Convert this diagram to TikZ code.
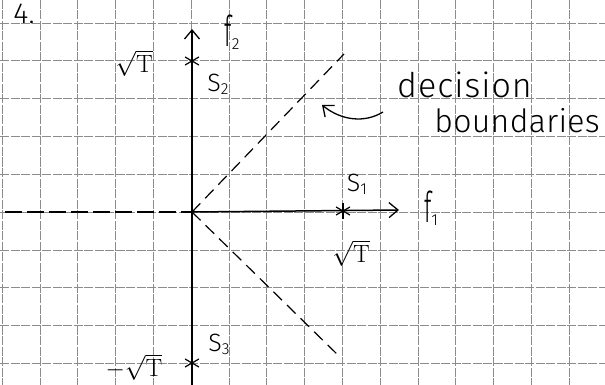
\documentclass[tikz,border=0pt]{standalone}
\usepackage{fontspec}
\usepackage{graphicx}
\usetikzlibrary{arrows.meta}
\newfontfamily\hand{Fira Sans Light}
\newcommand\handsub[1]{\raisebox{-3pt}{\fontsize{16}{16}\selectfont #1}}
\newcommand\handf{\scalebox{0.9}[1.7]{f}}
\begin{document}
\begin{tikzpicture}[x=1pt,y=-1pt,
  gridline/.style={black!45, line width=0.6pt, dash pattern=on 9pt off 1.5pt},
  axis/.style={line width=1.5pt, black},
  bound/.style={line width=1.2pt, black, dash pattern=on 12pt off 7pt},
  tipV/.style={-{Straight Barb[length=9pt,width=15pt,line width=1.3pt]}},
  lab/.style={font=\hand\fontsize{25}{28}\selectfont, inner sep=0pt},
  rootlab/.style={font=\fontsize{25}{28}\selectfont, inner sep=0pt},
  wordlab/.style={font=\hand\fontsize{34}{36}\selectfont\addfontfeature{LetterSpace=3}, inner sep=0pt, anchor=base west},
  pics/sstar/.style={code={
    \draw[line width=1.2pt] (30:8) -- (210:8);
    \draw[line width=1.2pt] (150:8) -- (330:8);
    \draw[line width=1.2pt] (90:8) -- (270:8);
  }}]
\useasboundingbox (0,0) rectangle (605,385);
\fill[white] (0,0) rectangle (605,385);
% grid paper
\foreach \i in {0,...,15} \draw[gridline] ({2+37.8*\i},0) -- ({2+37.8*\i},385);
\foreach \j in {0,...,9} \draw[gridline] (0,{23+37.8*\j}) -- (605,{23+37.8*\j});
% key points
\coordinate (O) at (192,212);
\coordinate (s1) at (343,211);
\coordinate (s2) at (192,61);
\coordinate (s3) at (192,363);
\coordinate (ytop) at (192,29);
\coordinate (ybot) at (192,385);
\coordinate (xend) at (399,210);
\coordinate (xleft) at (5,212);
\coordinate (b1) at (344,54);
\coordinate (b2) at (341,358);
\coordinate (arrS) at (383,112);
\coordinate (arrE) at (322,105);
% axes
\draw[axis,tipV] (ybot) -- (ytop);
\draw[axis,tipV] (O) -- (xend);
\draw[axis, dash pattern=on 17pt off 5pt] (xleft) -- (O);
% decision boundaries
\draw[bound] (O) -- (b1);
\draw[bound] (O) -- (b2);
% signal points
\pic at (s1) {sstar};
\pic at (s2) {sstar};
\pic at (s3) {sstar};
% labels
\node[lab, font=\hand\fontsize{29}{30}\selectfont] (num) at (24,14) {4.};
\node[lab] (f2) at (232,32) {\handf\handsub{2}};
\node[lab] (f1) at (431,208) {\handf\handsub{1}};
\node[lab] (S2) at (218,84) {S\handsub{2}};
\node[lab] (S1) at (357,184) {S\handsub{1}};
\node[lab] (S3) at (219,344) {S\handsub{3}};
\node[rootlab] (r2) at (134,63) {$\sqrt{\mathrm{T}}$};
\node[rootlab] (r1) at (351,253) {$\sqrt{\mathrm{T}}$};
\node[rootlab] (r3) at (134,367) {$-\sqrt{\mathrm{T}}$};
\node[wordlab] (dec) at (397,98) {decision};
\node[wordlab, anchor=base east, font=\hand\fontsize{32}{34}\selectfont\addfontfeature{LetterSpace=1}] (bnd) at (600,132) {boundaries};
% pointer arrow
\draw[line width=1.3pt, tipV] (arrS) .. controls (365,123) and (342,121) .. (arrE);
\end{tikzpicture}
\end{document}
